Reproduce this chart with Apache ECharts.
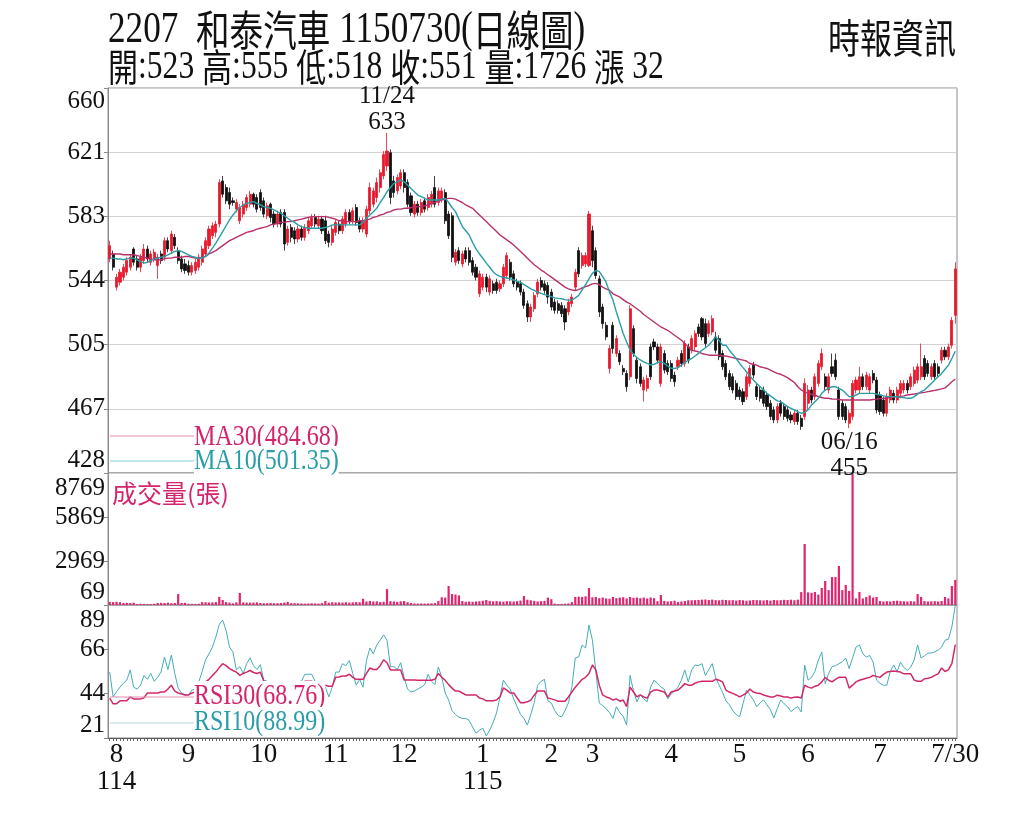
<!DOCTYPE html>
<html>
<head>
<meta charset="utf-8">
<script src="https://cdn.jsdelivr.net/npm/echarts@6/dist/echarts.min.js"></script>
<style>
html,body{margin:0;padding:0;background:#fff;}
#chart{width:1024px;height:819px;}
</style>
</head>
<body>
<div id="chart"></div>
<script>
// 月份起點 (交易日序號) 與標籤
const monthStarts = [2, 23, 45, 66, 86, 109, 129, 141, 164, 184, 204, 225, 247];
const monthLabels = ['8\n114', '9', '10', '11', '12', '1\n115', '2', '3', '4', '5', '6', '7', '7/30'];

// 日K 開高低收
const open = [
  557,560,540,543,546,549,552,563,557,552, 556,563,555,557,553,560,558,568,562,570,
  562,557,554,553,549,550,552,555,560,565, 571,573,578,604,600,597,592,587,580,584,
  588,590,596,594,597,592,583,590,584,578, 585,585,567,576,574,569,575,570,574,577,
  582,577,581,580,572,567,573,578,574,578, 585,580,588,580,575,572,586,590,594,600,
  607,613,621,604,598,601,609,603,595,584, 590,585,592,588,590,600,591,593,597,584,
  583,555,562,554,562,562,556,552,536,540, 546,537,542,543,539,542,547,555,548,543,
  542,537,530,522,527,536,544,542,541,537, 531,530,529,527,525,530,540,562,553,554,
  553,574,562,545,528,517,491,517,500,500, 491,488,486,515,496,492,478,479,504,507,
  504,482,500,494,494,487,492,500,494,504, 502,504,516,521,518,512,513,510,509,500,
  494,488,486,482,478,477,474,482,493,480, 478,478,475,470,466,460,470,468,466,463,
  459,464,461,462,470,478,474,482,492,486, 478,492,496,478,470,468,458,462,478,478,
  486,480,478,488,484,475,472,464,472,476, 472,476,478,482,480,482,484,486,497,494,
  486,494,492,496,502,498,505,523
];
const close = [
  565,552,546,549,552,556,558,555,552,558, 563,557,560,561,558,556,568,563,572,565,
  556,551,550,549,553,555,558,563,568,575, 577,578,603,596,592,590,591,591,588,590,
  594,596,590,587,588,584,589,582,578,584, 578,566,575,570,569,575,570,576,580,582,
  578,581,574,568,567,575,579,574,581,585, 580,586,579,575,580,587,600,598,603,609,
  620,622,594,597,606,609,600,590,585,590, 585,591,587,594,596,590,598,598,580,571,
  558,561,556,560,557,555,549,546,548,546, 540,545,538,538,542,552,559,546,542,540,
  537,529,522,528,535,543,540,538,534,528, 526,526,524,519,531,534,549,548,559,559,
  584,556,547,525,518,510,503,503,509,495, 489,480,527,500,485,482,484,485,486,504,
  496,504,490,489,485,483,496,494,506,496, 509,512,512,510,506,518,521,502,498,492,
  486,480,478,474,474,471,486,491,487,474, 473,470,468,462,460,468,464,462,461,460,
  464,459,456,482,478,472,486,494,500,480, 486,488,486,462,462,460,464,482,484,486,
  480,487,486,484,466,465,464,474,478,472, 478,482,482,478,486,490,492,492,486,488,
  492,486,488,502,498,504,520,551
];
const low = [
  555,550,538,541,544,547,550,553,550,549, 554,555,553,555,545,554,556,561,560,563,
  554,549,548,547,547,548,550,553,558,563, 569,570,576,594,590,587,589,585,578,582,
  586,588,588,585,586,582,581,579,576,576, 576,562,565,567,566,567,568,568,572,575,
  576,575,572,566,564,565,571,572,572,576, 578,578,577,573,573,570,584,588,591,597,
  605,610,590,594,596,599,597,588,583,582, 583,583,585,586,588,588,589,591,578,569,
  555,553,554,552,555,553,547,544,534,538, 537,535,536,536,537,540,545,544,540,538,
  535,527,519,519,525,534,538,536,530,526, 524,524,522,514,523,528,538,546,551,552,
  552,552,545,522,515,508,488,500,498,493, 487,477,484,498,482,480,471,477,484,502,
  494,480,488,487,483,480,490,492,492,494, 500,502,510,508,504,510,511,500,496,490,
  484,478,476,472,472,469,472,480,485,472, 471,468,466,460,458,458,462,460,459,458,
  457,457,454,460,466,470,472,480,490,478, 476,486,484,460,460,458,455,460,476,476,
  478,478,476,482,464,463,462,462,470,470, 470,474,476,476,478,480,482,484,484,486,
  484,484,486,494,496,496,503,518
];
const high = [
  568,562,548,551,554,558,560,564,559,560, 566,565,562,563,560,562,570,570,574,572,
  564,559,557,556,555,557,560,565,570,577, 579,580,605,607,602,600,594,593,590,592,
  596,598,597,596,599,594,591,591,586,586, 587,587,577,578,576,577,577,578,582,584,
  584,583,583,583,574,577,581,580,583,587, 587,588,590,582,582,589,603,600,606,611,
  622,633,623,607,608,611,611,605,597,592, 592,593,594,596,598,607,600,600,599,586,
  585,563,564,562,564,564,558,554,550,548, 548,547,544,545,544,554,561,557,550,545,
  544,539,532,530,537,545,546,544,543,539, 533,532,531,529,533,536,551,564,561,561,
  586,577,564,547,530,519,505,519,511,502, 493,490,529,517,498,494,486,487,506,509,
  506,506,502,496,496,489,498,502,508,506, 511,514,518,522,521,520,523,513,511,502,
  496,490,488,484,480,479,488,493,495,482, 480,480,477,472,468,470,472,470,468,465,
  466,466,463,485,481,480,488,496,503,488, 488,500,500,480,472,470,466,484,486,492,
  488,489,488,490,486,477,474,476,480,478, 480,484,484,484,488,492,494,506,499,496,
  494,496,494,504,504,506,522,555
];

// 均線
const ma30 = [
  560,560,560,560,559.5,559.5,559.5,559.5,559,558.5, 558,557.5,557,556.5,556.5,556.5,557,557.5,557.5,558,
  558,558,558.5,558.5,558,557.5,557.5,558,558.5,560, 561,562,563.5,565,566.5,568,569,570,571,572,
  573,573.5,574,575,575.5,576,576.5,577.5,578,578.5, 579,579,579.5,579.5,580,580.5,581,581.5,582,582.5,
  582.5,582.5,582.5,582.5,582,581.5,581,580,580,579.5, 579.5,579.5,579.5,580,580,580.5,581,582,582.5,583.5,
  584,585,585.5,586.5,587,587,587.5,587.5,588,588, 588.5,588.5,589,589.5,590.5,591,592,592.5,593,593.5,
  593.5,593,592,591,589.5,588.5,587.5,585.5,583.5,581.5, 579.5,577.5,575.5,573.5,571.4,570,568.5,567,565.4,563.5,
  561.5,559.5,557.4,555.5,553.5,552,550.3,549,547.5,546, 544.5,543,541.5,540,539,538.3,538,538.5,539.5,540.3,
  541,542,542.3,541.5,540,539,538,536,535,534, 532.5,531,530,528.5,527,525.5,523.5,522,520.5,519,
  517.5,516,515,514,512.5,511,509.5,508,506,504, 502,501.5,501,500,499.5,499,499,499,499,498.5,
  498.5,498,497.5,497,496.5,496,495.5,494,493.5,493, 492,491.5,491,490,489,488,487.5,486.5,485.5,484,
  482.5,480,478,477,476,475.5,475,474,473.5,473, 473,472.6,472.5,472.3,472,472,472,472,472,472,
  472,472,472,472.3,472.5,472.8,473,473.2,473.5,473.8, 474,474.2,474.5,475,475.3,475.6,476,476.3,476.6,477,
  477.4,477.8,478.2,478.7,479.3,481,483,484.68
];
const ma10 = [
  557.5,557.5,557,557,556.5,557,557.5,557.5,556.5,555.5, 554.5,555,556,557,557.5,558,558.5,559.5,560.5,561.5,
  562,561.5,560.5,559.5,558.5,558,557.5,557.5,558.5,560.5, 563.5,566.5,570,573.5,577,580.5,583.5,586,588,589.5,
  590.5,591,591.5,590.5,589.5,588.5,588,587.5,586.5,585.5, 584.5,583,581.5,580,579,577.5,576.5,576,575.5,575.5,
  575.5,575.5,575.5,576,576.5,577.5,577.5,577.5,577.5,577.5, 577.5,577.5,577.5,577.5,579,581.5,583.5,585.5,587.5,591,
  594,597.5,600,602.5,603.5,604.6,603.5,601.5,599.5,597.5, 595.5,594.5,593.5,592.5,592.5,592.5,592.5,593,593.5,591,
  588,585.5,581,576.5,574,571.4,567,563,560,557.4, 554.5,552,549.3,547.5,546.5,545.8,545.5,545,544.3,543.5,
  543,541.5,540.3,539,538,537,536.2,535.5,535,534.3, 533.5,533.2,533,532.5,532.2,532.2,533.5,535,538.3,541.5,
  545,548.3,550,549.5,546.3,543,537,532.2,525,518.5, 512.1,507,502.1,499.5,497.5,496.1,495,494,493.1,493.5,
  494.5,495.1,494,492.5,491.1,491,491.5,493.1,494.5,496.1, 497,498.5,500.1,502,503.5,505,507.5,510,508,505,
  505,502,499.5,497,494,491.5,489,486.5,484,482, 480,478,476,474.5,473,471.5,471,469.5,468,467,
  466,465,464,464.5,466,469,471,473,476,478, 479,480,480,479,478,476,474,474,475,476,
  476,476,476,476,475.5,475,474.5,474,474,474, 474,473.5,473.5,473,473,474,475.5,477,478,480,
  482,484,486,488,490.5,493,497,501.35
];

// 成交量(張)
const volume = [
  270,260,280,250,200,210,200,220,130,150, 140,130,130,150,200,210,200,220,190,200,
  790,200,210,150,140,140,150,260,250,230, 240,260,600,400,260,230,180,240,860,240,
  230,220,230,240,200,180,190,200,180,190, 200,230,280,190,190,180,170,160,170,180,
  170,160,190,330,220,250,240,240,230,250, 230,240,260,250,480,300,330,300,310,260,
  280,1120,320,300,280,310,330,250,200,170, 160,170,160,170,180,190,330,580,560,1320,
  790,760,700,330,280,300,280,300,320,350, 400,340,310,330,300,290,320,310,300,320,
  360,660,420,380,340,300,320,340,560,450, 160,130,140,150,170,260,600,620,600,640,
  1190,580,600,520,560,500,480,600,520,560, 580,500,600,540,560,520,560,500,560,520,
  320,730,340,300,320,350,260,300,330,380, 380,390,400,420,430,400,420,390,380,410,
  400,380,390,360,400,380,350,370,400,390, 380,370,390,360,400,380,390,410,400,420,
  380,420,920,4090,900,870,930,750,1190,1650, 1050,1910,1910,2640,1050,1390,1000,8700,500,930,
  500,600,700,560,600,330,300,320,300,340, 350,330,310,300,320,300,790,600,330,300,
  310,320,300,330,600,500,1320,1726
];

// RSI
const rsi10 = [
  54.7,42,44.7,47,49,50.6,55.8,47,46,48, 53,51,54,50,52,54.7,62.4,56,63.4,54,
  46.5,44,43,43,45.5,46,49.6,55,61,64, 67.5,72.6,79,81.3,76,67.5,65,55.8,57.5,54,
  59,62,58,56,58.5,50.6,50,49,48,49, 47,46,48,47.5,48,49,50,53.6,53.6,53.6,
  50,49,48,47,42,47,54.7,54.7,59,58, 60.6,54,48,51,47,60.6,67,64,68.6,71,
  73.7,71,57.5,57.5,56,59.5,52,46,44.5,45, 46,47,48.3,53.6,50,48.3,57.3,52,44,40.4,
  35,33,31.7,31,31,30,26.6,23.5,25,26, 22,25,29,33.8,42,50.6,48,46,41,37,
  33,31,27.6,33,39,48,50,51,40,38.9, 35,32.5,31.8,35,39,47,61.9,62.5,68.6,67,
  78.8,71,55,38.9,37.5,36,34,31,37,34, 32,27.6,53,45,39.5,43,41,39.5,47,50.6,
  49,47,46,41,43.5,45,47,50.6,55.8,49.7, 55.8,58.3,58,59,53,56,59,52,48,44.5,
  40,38,35,33,31.8,38.5,45.5,43,40.5,37, 39,40.5,38,35.5,31.2,36,40.5,38.5,37,34.5,
  36,37,34.3,58.3,50.6,52,55,60.9,65,48.8, 54,57.5,58,59,60,61.9,56.5,62,67.5,68.6,
  64,62.4,63.2,59.8,50.6,49,48,48,55,58.3, 55,59.8,57,55.5,57.3,60.9,68.6,61.9,63,64.4,
  64.5,65,66,67.5,71,71.5,77.8,88.99
];
const rsi30 = [
  41.4,38.5,38.5,40,40,40,42,41,41,41, 41.5,44,44,44,44,44.5,44.5,46,48,45,
  44,43.5,43,43,44,44.5,45.5,47,49.7,51, 53,54.7,57,59,58,56.5,55.5,54.7,53,54,
  54.7,55.5,54.5,54,54.7,50,49.5,49,48,48.5, 47.5,47.5,48.5,48.5,48.5,48.5,49,50,50,50,
  49,48.5,48,48,47.5,47.5,52,52.2,52.7,52.7, 53.6,52,51,51,51,54,56.8,56,56,58,
  61,59.5,55.8,55.8,55.8,55.8,50.6,50.6,50.6,50.6, 50.5,50.5,50.5,50.5,50.5,51,54,52,50.5,48.3,
  46.5,45,45,44,43,43,43,43,41.5,41, 40,40,40,40.4,42,46.6,45.5,44,44,41.5,
  39,39,39.5,40.4,42.9,45,45,45,41.4,41, 40.5,39.8,39.8,39.8,42,44.5,47,49,51,52,
  54,58.3,55.8,48,43,42,41.5,40.4,41,39.8, 40.4,37,47,44.5,42,43,42,41.4,44.5,45.5,
  45.5,45,44.5,42,44.5,45,45.5,47,48.8,48, 48,49,49.7,50,50,50,50,51,50.5,49.7,
  45.5,44.5,43.8,43,42,42.9,44,46,44.5,44, 43.8,43,42.5,42,42,42.9,42.5,42,42,41.4,
  41.8,42,41.4,48,47,46.5,47.5,48,49.7,52, 50.5,49.7,51,52,52,52,46.5,48,49.7,50.5,
  51,51.5,52,53,52.5,52,53.5,54.7,55,55.2, 55,54.7,53.8,53.8,53.8,50.6,50,50,51.3,51.5,
  52,53,53.8,56.8,55,56,59,68.76
];

const serif = '"Liberation Serif", "Times New Roman", serif';
const cjk = '"Noto Sans CJK TC", sans-serif';

const days = close.map((v, i) => String(i));
const candles = open.map((o, i) => [o, close[i], low[i], high[i]]);

const chart = echarts.init(document.getElementById('chart'));

function gridBox(top, height) {
	return {
		left: 108, top: top, width: 849, height: height,
		show: true, borderColor: '#8c8c8c', borderWidth: 1, backgroundColor: 'transparent'
	};
}

function hiddenX(idx) {
	return {
		type: 'category', gridIndex: idx, data: days, boundaryGap: true,
		axisLine: { show: false }, axisTick: { show: false }, axisLabel: { show: false }, splitLine: { show: false }
	};
}

// 最上面的刻度字往下推 (頂端貼齊框線)
function valueY(idx, min, max, interval, gridLines, topPad) {
	return {
		type: 'value', gridIndex: idx, min: min, max: max, interval: interval,
		axisLine: { show: true, lineStyle: { color: '#8c8c8c' } },
		axisTick: { show: true, length: 4, lineStyle: { color: '#8c8c8c' } },
		splitLine: { show: gridLines, lineStyle: { color: '#d2d2d2', width: 1 } },
		axisLabel: {
			formatter: v => (v > max - interval / 2 ? '{t|' + Math.round(v) + '}' : String(Math.round(v))),
			fontFamily: serif, fontSize: 25, color: '#111', margin: 3,
			verticalAlignMinLabel: 'bottom',
			rich: { t: { fontFamily: serif, fontSize: 25, color: '#111', padding: [topPad, 0, 0, 0] } }
		}
	};
}

const legendText = (x, y, text, color) => ({
	type: 'text', x: x, y: y, scaleX: 0.8, z: 100,
	style: { text: text, fill: color, font: '30px ' + serif, verticalAlign: 'middle', backgroundColor: '#fff' }
});
const legendLine = (y, color) => ({
	type: 'line', z: 100, shape: { x1: 110, y1: y, x2: 194, y2: y }, style: { stroke: color, lineWidth: 1 }
});

const option = {
	animation: false,
	backgroundColor: '#fff',
	grid: [gridBox(88, 385), gridBox(473, 132), gridBox(605, 133)],
	xAxis: [
		hiddenX(0),
		hiddenX(1),
		{
			type: 'category', gridIndex: 2, data: days, boundaryGap: true,
			axisLine: { show: true, lineStyle: { color: '#555' } },
			axisTick: { show: true, interval: 0, length: 3, alignWithLabel: true, lineStyle: { color: '#666' } },
			splitLine: { show: false },
			axisLabel: {
				interval: i => monthStarts.indexOf(i) >= 0,
				formatter: (v, i) => monthLabels[monthStarts.indexOf(i)] || '',
				fontFamily: serif, fontSize: 27, lineHeight: 27, color: '#111', margin: 3
			}
		}
	],
	yAxis: [
		valueY(0, 428, 660, 232 / 6, true, 26),
		valueY(1, 69, 8769, 2900, false, 30),
		valueY(2, 21, 89, 68 / 3, false, 30)
	],
	series: [
		{
			name: 'K', type: 'candlestick', xAxisIndex: 0, yAxisIndex: 0, data: candles,
			barWidth: 2.6,
			itemStyle: { color: '#e8192c', color0: '#111', borderColor: '#e8192c', borderColor0: '#111', borderWidth: 0.8 },
			markPoint: {
				symbol: 'circle', symbolSize: 1, itemStyle: { color: 'transparent' },
				label: { show: true, fontFamily: serif, fontSize: 25, lineHeight: 26, color: '#111' },
				data: [
					{ coord: ['81', 633], label: { position: 'top', distance: 1, offset: [0, 4], formatter: '11/24\n633' } },
					{ coord: ['216', 455], label: { position: 'bottom', distance: 1, formatter: '06/16\n455' } }
				]
			}
		},
		{ name: 'MA30', type: 'line', xAxisIndex: 0, yAxisIndex: 0, data: ma30, symbol: 'none', lineStyle: { color: '#b8306b', width: 1.4 } },
		{ name: 'MA10', type: 'line', xAxisIndex: 0, yAxisIndex: 0, data: ma10, symbol: 'none', lineStyle: { color: '#2a9ea7', width: 1.4 } },
		{ name: '成交量', type: 'bar', xAxisIndex: 1, yAxisIndex: 1, data: volume, barWidth: 2.2, itemStyle: { color: '#e0246f' } },
		{ name: 'RSI10', type: 'line', xAxisIndex: 2, yAxisIndex: 2, data: rsi10, symbol: 'none', lineStyle: { color: '#45adb5', width: 1 } },
		{ name: 'RSI30', type: 'line', xAxisIndex: 2, yAxisIndex: 2, data: rsi30, symbol: 'none', lineStyle: { color: '#d2286b', width: 1.5 } }
	],
	graphic: [
		{
			type: 'text', x: 108, y: 30, scaleX: 0.8,
			style: {
				text: '{n|2207}  {c|和泰汽車} {n|1150730(}{c|日線圖}{n|)}',
				font: '44px ' + serif, fill: '#111', verticalAlign: 'middle',
				rich: { n: { fontFamily: serif, fontSize: 44, fill: '#111' }, c: { fontFamily: cjk, fontSize: 42, fill: '#111' } }
			}
		},
		{
			type: 'text', x: 108, y: 67, scaleX: 0.79,
			style: {
				text: '{c|開}{n|:523 }{c|高}{n|:555 }{c|低}{n|:518 }{c|收}{n|:551 }{c|量}{n|:1726 }{c|漲}{n| 32}',
				font: '40px ' + serif, fill: '#111', verticalAlign: 'middle',
				rich: { n: { fontFamily: serif, fontSize: 40, fill: '#111' }, c: { fontFamily: cjk, fontSize: 38, fill: '#111' } }
			}
		},
		{
			type: 'text', x: 828, y: 38, scaleX: 0.8,
			style: { text: '時報資訊', font: '40px ' + cjk, fill: '#111', verticalAlign: 'middle' }
		},
		legendLine(436, '#e58cb0'),
		legendLine(461, '#86cdd2'),
		legendText(194, 437, 'MA30(484.68)', '#d4246e'),
		legendText(194, 461, 'MA10(501.35)', '#2a9ea7'),
		{
			type: 'text', x: 112, y: 493, z: 100,
			style: { text: '成交量(張)', font: '25px ' + cjk, fill: '#d4246e', verticalAlign: 'middle' }
		},
		legendLine(697, '#e58cb0'),
		legendLine(723, '#b4d9dc'),
		legendText(194, 696, 'RSI30(68.76)', '#d4246e'),
		legendText(194, 722, 'RSI10(88.99)', '#2a9ea7')
	]
};

chart.setOption(option);
</script>
</body>
</html>
